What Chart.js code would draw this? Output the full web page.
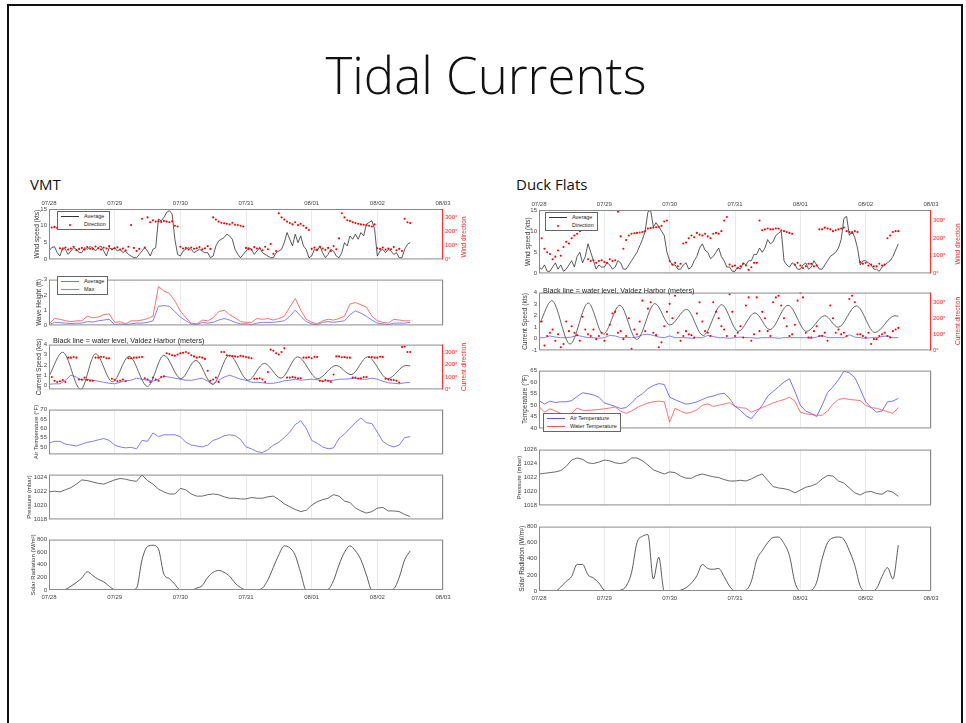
<!DOCTYPE html>
<html lang="en">
<head>
  <meta charset="UTF-8" />
  <title>Tidal Currents</title>
  <script src="https://cdn.jsdelivr.net/npm/chart.js"></script>
  <style>
    * { margin: 0; padding: 0; box-sizing: border-box; }
    body { width: 966px; height: 723px; background: #fff; position: relative; overflow: hidden;
      font-family: 'Liberation Sans', Arial, sans-serif; }
    .frame { position: absolute; left: 7px; top: 4px; width: 956px; height: 740px; border: 2px solid #111; }
    h1 { position: absolute; left: 0; width: 972px; top: 44px; text-align: center;
      font-family: 'Open Sans', sans-serif; font-weight: 300; font-size: 51px; line-height: 60px; color: #111; }
    .panel-title { position: absolute; font-family: 'Open Sans', sans-serif; font-size: 15px; color: #111; }
    canvas { position: absolute; }
    .vt { position: absolute; transform: translate(-50%, -50%) rotate(-90deg); white-space: nowrap;
      font-size: 6.5px; color: #ff2020; }
    .note { position: absolute; font-size: 7.2px; color: #222; white-space: nowrap; line-height: 8px; }
    .lg { position: absolute; background: #fff; border: 1px solid #666; font-size: 5.5px; line-height: 7.5px;
      padding: 1px 3px; color: #222; white-space: nowrap; }
    .lg i { display: inline-block; width: 18px; height: 0; border-top: 1px solid; vertical-align: middle; margin-right: 5px; }
    .lg b { display: inline-block; width: 18px; vertical-align: middle; margin-right: 5px; text-align: center; line-height: 2px; }
    .lg b::before { content: ''; display: inline-block; width: 2px; height: 2px; border-radius: 50%; background: #f00; }
  </style>
</head>
<body>
  <div class="frame"></div>
  <h1>Tidal Currents</h1>
  <div class="panel-title" style="left:30px; top:174px;">VMT</div>
  <div class="panel-title" style="left:516px; top:174px;">Duck Flats</div>

  <canvas id="vmtWind"></canvas>
  <canvas id="vmtWave"></canvas>
  <canvas id="vmtCurrent"></canvas>
  <canvas id="vmtAir"></canvas>
  <canvas id="vmtPress"></canvas>
  <canvas id="vmtSolar"></canvas>
  <canvas id="duckWind"></canvas>
  <canvas id="duckCurrent"></canvas>
  <canvas id="duckTemp"></canvas>
  <canvas id="duckPress"></canvas>
  <canvas id="duckSolar"></canvas>

  <div class="vt" style="left:463px; top:237px;">Wind direction</div>
  <div class="vt" style="left:463px; top:367px;">Current direction</div>
  <div class="vt" style="left:957px; top:244px;">Wind direction</div>
  <div class="vt" style="left:957px; top:321px;">Current direction</div>

  <div class="note" style="left:53px; top:337px;">Black line = water level, Valdez Harbor (meters)</div>
  <div class="note" style="left:543px; top:287px;">Black line = water level, Valdez Harbor (meters)</div>

  <div class="lg" style="left:57px; top:211px;">
    <div><i style="border-color:#333"></i>Average</div>
    <div><b></b>Direction</div>
  </div>
  <div class="lg" style="left:57px; top:276px;">
    <div><i style="border-color:#7070ff"></i>Average</div>
    <div><i style="border-color:#ff6060"></i>Max</div>
  </div>
  <div class="lg" style="left:545px; top:212px;">
    <div><i style="border-color:#333"></i>Average</div>
    <div><b></b>Direction</div>
  </div>
  <div class="lg" style="left:543px; top:413px;">
    <div><i style="border-color:#5050ff"></i>Air Temperature</div>
    <div><i style="border-color:#ff5050"></i>Water Temperature</div>
  </div>

  <script>
    // time axis: hours since 07/28 00:00, one reading every 2 h
    const hours = [0,2,4,6,8,10,12,14,16,18,20,22,24,26,28,30,32,34,36,38,40,42,44,46,48,50,52,54,56,58,60,62,64,66,68,70,72,74,76,78,80,82,84,86,88,90,92,94,96,98,100,102,104,106,108,110,112,114,116,118,120,122,124,126,128,130,132];
    // wind readings: one every hour
    const windHours = [0,1,2,3,4,5,6,7,8,9,10,11,12,13,14,15,16,17,18,19,20,21,22,23,24,25,26,27,28,29,30,31,32,33,34,35,36,37,38,39,40,41,42,43,44,45,46,47,48,49,50,51,52,53,54,55,56,57,58,59,60,61,62,63,64,65,66,67,68,69,70,71,72,73,74,75,76,77,78,79,80,81,82,83,84,85,86,87,88,89,90,91,92,93,94,95,96,97,98,99,100,101,102,103,104,105,106,107,108,109,110,111,112,113,114,115,116,117,118,119,120,121,122,123,124,125,126,127,128,129,130,131,132];
    const dayTicks = [0, 24, 48, 72, 96, 120, 144];
    const dayLabels = ["07/28", "07/29", "07/30", "07/31", "08/01", "08/02", "08/03"];

    // ---- VMT ----
    const vmtWindAvg = [2.5,3.5,3.8,2,1,3.5,3,1.5,2.5,3.5,3,2, 2,3.5,3,3.8,3.5,2.5,3.5,4,2.5,1,3.5,3, 3.5,2.5,3,2,2.5,1.5,1,0.5,0.5,1.5,2.5,3.5, 2.5,1,3,3.5,12,11.5,12.5,14,14.5,13.5,6,1.5, 1,2.5,3,3.5,3,2,2.5,3,2.5,2,2,0.5, 1,4,5.5,6,6.5,7.5,7,6,3,1.5,0.5,1.5, 2.5,3.5,3,1.5,2.5,3.5,2,1.5,1,0.5,0.5,2, 2.5,3,5,8,6,4,7.5,5,7,4,3,0.5, 1,3,2.5,4,2,0.5,1.5,3,2.5,1,0.5,2, 5,4,7,6,7.5,6,8,7,10.5,11,11.5,9, 1,2.5,3,2,3,2.5,1.5,2,0.5,0.5,3,4.5, 5];
    const vmtWindDir = [235,228,232,225,80,72,85,70,78,90,66,75, 82,70,88,76,74,92,80,70,85,78,95,72, 80,86,70,78,65,90,245,82,60,75,290,85, 300,265,280,270,272,268,275,270,265,272,240,235, 90,78,82,70,85,76,80,88,72,80,95,75, 300,285,270,262,258,255,250,262,248,245,240,235, 82,75,70,88,78,80,65,90,72,110,40,60, 330,300,285,270,260,250,265,245,255,240,225,210, 75,85,70,90,78,68,82,60,95,72,150,330, 300,280,275,265,260,255,250,248,245,240,235,250, 80,75,85,70,78,72,88,65,75,60,290,265, 260];
    const vmtWaveAvg = [0.05,0.2,0.18,0.15,0.12,0.15,0.15,0.25,0.22,0.3,0.35,0.4, 0.05,0.1,0.05,0.1,0.15,0.15,0.2,0.3,1.25,1.3,1.25,0.9, 0.55,0.3,0.1,0.05,0.2,0.15,0.2,0.35,0.45,0.35,0.2,0.1, 0.1,0.05,0.15,0.2,0.2,0.2,0.25,0.3,0.6,1,0.6,0.25, 0.1,0.05,0.2,0.25,0.2,0.25,0.3,0.7,0.95,0.8,0.6,0.35, 0.15,0.1,0.05,0.15,0.15,0.15,0.2];
    const vmtWaveMax = [0.1,0.45,0.4,0.3,0.25,0.3,0.3,0.6,0.5,0.55,0.7,0.75, 0.2,0.25,0.1,0.3,0.3,0.35,0.45,0.6,2.55,2.25,2.1,1.6, 0.95,0.5,0.15,0.1,0.35,0.3,0.5,0.9,1,0.7,0.5,0.25, 0.2,0.2,0.45,0.4,0.45,0.35,0.45,0.6,1.2,1.75,1,0.4, 0.2,0.1,0.3,0.4,0.35,0.45,0.6,1.4,1.5,1.35,1.2,0.6, 0.3,0.2,0.15,0.4,0.35,0.3,0.3];
    const vmtCurSpeed = [0.1,0.15,0.15,0.5,1,0.8,0.5,0.6,0.5,0.4,0.3,0.2, 0.15,0.3,0.45,0.5,0.7,0.6,0.5,0.4,0.6,0.9,0.8,0.7, 0.6,0.5,0.5,0.6,0.7,0.4,0.1,0.5,0.8,1,0.8,0.6, 0.5,0.3,0.3,0.25,0.2,0.2,0.3,0.45,0.5,0.6,0.5,0.55, 0.6,0.55,0.4,0.45,0.5,0.6,0.6,0.65,0.7,0.6,0.6,0.7, 0.6,0.4,0.25,0.2,0.15,0.25,0.3];
    const vmtCurDir = [90,100,70,60,65,75,60,255,255,260,255,80, 80,95,75,70,70,255,255,262,260,250,250,85, 75,65,70,80,65,250,250,255,255,258,260,90, 80,60,95,80,70,100,105,290,285,275,270,280, 290,295,300,290,275,265,255,260,255,245,150,70, 80,95,60,300,300,275,270,268,265,262,270,265, 260,255,250,85,85,90,80,60,140,320,310,290, 280,300,330,95,95,100,95,90,90,255,255,258, 250,262,260,70,65,75,70,60,120,265,265,258, 260,255,255,95,95,88,90,100,100,260,260,255, 255,262,260,85,80,78,75,70,55,340,345,300, 300];
    // water level: highs and lows of the tide
    const vmtTideHours = [0,5,11.6,17,23.2,29.3,36,42,48.2,53.7,59.8,65.9,72.8,78.7,84.8,90.9,98.2,104.9,110.4,116.5,123.8,130.5,132];
    const vmtTideLevel = [0.9,3.25,-0.4,3.1,0.35,2.85,-0.1,2.95,0.65,2.45,0.1,2.95,0.5,2.15,0.7,2.8,0.65,1.95,1.05,2.8,0.65,1.95,1.9];
    const vmtAirTemp = [52,53,53,51.5,51,50.5,51.5,52.5,53,53.8,54.5,53.5, 51,50,49.5,49.8,49,53.5,53,57.5,55.5,56.5,56.5,56.5, 55.5,52.5,51,50.5,50,51,53.5,54.5,56,56.5,56,54, 50,49,47.5,47,48.5,51,52.5,55,58,62,64,60, 53.5,52,50,49,49.5,54.5,57,60,63,65.5,63,62.5, 58,53,51,50,51,55,55.5];
    const vmtPressure = [1021.9,1022,1021.9,1022.2,1022.5,1023,1023.6,1023.5,1023.3,1023.1,1023,1023.3, 1023.6,1023.8,1023.7,1023.5,1023.4,1024.3,1023.5,1023,1022.3,1021.9,1021.6,1021.6, 1022.4,1022.2,1021.6,1021.3,1021.3,1021.5,1021.6,1021.5,1021.2,1021,1021,1020.9, 1020.9,1021.1,1021,1021,1021.2,1021.3,1020.8,1020.2,1019.8,1019.4,1019.1,1019.3, 1020,1020.5,1020.8,1021,1021.5,1021.3,1020.6,1020.4,1019.6,1019.2,1018.9,1019.1, 1019.6,1019.7,1019.2,1019.2,1019.1,1018.7,1018.4];
    const vmtSolar = [0,0,0,10,60,120,190,290,230,170,130,60, 5,0,0,0,30,480,690,710,650,250,180,90, 0,0,0,30,70,200,280,310,280,220,110,40, 0,0,0,30,160,360,560,700,670,550,270,0, 0,0,0,10,150,400,600,700,620,480,240,0, 0,0,0,20,200,480,620];

    // ---- Duck Flats ----
    const duckWindAvg = [1.5,1,2,0.5,0.5,1.5,2.5,1,2,0.5,1,2, 3,1.5,4,5,2.5,4,7,5,3,1,2,1.5, 1.5,2.5,2,1,1.5,3,2.5,1,1,2,3,4, 5,6.5,8,10,14.5,15,11,12,11,10,9,5, 3,2,2,1,1,2,2.5,1,1.5,3,4,6, 7,5.5,5,3.5,4,5,6,4,3,1.5,1.5,0.5, 0.5,1.5,1,2.5,2,3,3,4.5,4.5,6,5,6, 8,7,7.5,9,9.5,10,3,2,1.5,2.5,2,1, 1,2,2.5,1,1.5,3,2,1,1,2,3,4, 4.5,5,6,8,13,13.5,9,10,8.5,6,2,3, 3,2.5,2,1,1,0.5,1.5,2,2.5,3,4,5.5, 7];
    const duckWindDir = [255,200,140,120,110,80,95,130,100,150,180,170, 200,215,225,240,250,262,80,70,75,60,70,75, 65,60,80,70,75,350,210,140,190,215,225,228, 230,232,235,240,255,258,260,262,265,270,295,300, 70,50,60,40,55,170,175,200,215,205,230,220, 215,225,210,200,225,230,225,240,300,320,50,40, 45,30,40,55,45,20,35,60,60,300,245,250, 255,250,250,255,255,245,240,235,230,225,50,60, 45,30,40,55,55,40,45,250,250,260,255,250, 240,245,250,255,260,240,235,230,240,235,65,55, 60,45,50,40,40,55,45,50,200,215,235,240, 240];
    const duckCurSpeed = [0.1,0.1,0.25,0.15,0.1,0.1,0.15,0.3,0.2,0.1,0.1,0.05, 0.1,0.3,0.25,0.1,0.1,0.1,0.15,0.35,0.4,0.3,0.15,0.1, 0.25,0.1,0.1,0.1,0.05,0.1,0.1,0.3,0.2,0.1,0.1,0.05, 0.1,0.15,0.1,0.1,0.05,0.1,0.1,0.1,0.05,0.1,0.1,0.1, 0.1,0.1,0.05,0.15,0.3,0.1,0.1,0.1,0.1,0.35,0.15,0.1, 0.05,0.1,0.1,0.2,0.25,0.1,0.1];
    const duckCurDir = [200,180,30,90,110,130,60,100,20,40,180,120, 150,110,95,60,210,130,100,90,130,70,90,110, 60,100,160,230,240,110,120,70,90,200,10,130, 100,180,310,120,260,300,110,95,20,50,150,240, 290,200,340,110,60,90,120,100,95,80,230,300, 180,120,110,90,300,240,200,150,130,90,350,240, 90,110,150,80,280,330,60,100,330,120,240,200, 120,90,300,330,340,280,200,150,90,100,160,310, 360,330,110,80,80,120,150,90,90,110,60,280, 200,110,130,100,110,90,320,340,300,100,100,90, 80,110,40,70,70,90,100,110,90,80,120,130, 140];
    const duckTideHours = [0.4,4.7,11.4,18.1,23.6,29.7,35.9,42.6,48.1,54.2,60.3,67.1,73.2,79.3,84.8,91.5,98.3,105,109.9,116.6,123.4,130.7,132];
    const duckTideLevel = [1.4,3.3,-0.45,3.1,0.4,2.9,-0.05,3.05,1.2,2.55,0.3,2.95,0.65,2.25,0.8,2.9,0.65,2,1,2.85,0.55,2,1.95];
    const duckAirTemp = [52,50.5,51.8,51.2,51.5,51.5,52,53.8,55.4,55,54.5,53.5, 51,50.3,49.5,48.6,49,51,53.5,55,57.2,58.5,59.4,59, 53.5,52.4,51.4,50.5,50.8,51.5,52.5,53.5,54,54.8,55.2,53, 49.5,47.8,45.5,44.2,47,50,54,56,58,60,61.5,56, 50,47.5,46.5,45.1,50,55.5,58,61,64.8,64,62,57, 51.5,49,47,47.5,51.5,51.8,53];
    const duckWaterTemp = [49.5,47,48.5,47.5,46.5,45.8,46.5,48.8,47.8,47.8,48,48.2, 48.5,48.8,49.3,47.5,46.5,47.5,49,50,51,51.5,51.8,51.5, 42.7,48.7,47.5,46.5,47,48,50,50.6,49.5,50,50.5,51.2, 49.5,49,48.7,47,48,49,50,51,51.8,52.5,53.5,51.8, 47,46.3,46,45.7,45.7,47.5,50.5,52.5,53,52.5,52.3,52, 50,49,48.7,48,47.2,46.5,49];
    const duckPressure = [1022.5,1022.6,1022.7,1022.8,1023,1023.6,1024.5,1024.8,1024.6,1024.1,1024,1024.2, 1024.5,1024.4,1024.1,1024,1024.2,1024.8,1024.8,1024.4,1023.8,1023.1,1022.8,1022.5, 1022.8,1022.7,1022.2,1021.9,1021.9,1022.3,1022.5,1022.3,1022.1,1022,1021.7,1021.5, 1021.5,1021.6,1021.5,1021.8,1022.2,1022.5,1021.6,1020.7,1020.5,1020.4,1020.2,1019.8, 1020.2,1020.6,1020.8,1021.1,1021.8,1022.3,1022.2,1021.5,1021.2,1020.5,1019.8,1019.5, 1019.9,1020,1019.7,1019.6,1020.1,1019.9,1019.3];
    const duckSolar = [0,0,0,0,50,120,180,330,330,200,160,100, 10,0,0,10,60,230,600,680,700,150,420,0, 0,0,10,40,100,190,330,280,270,280,180,60, 0,0,10,120,390,500,600,665,670,590,440,110, 0,0,10,110,400,600,660,670,640,500,320,60, 0,0,30,180,290,150,570];

    // tick values of the y axes
    const windTicks = [0, 5, 10, 15];
    const dirTicks = [0, 100, 200, 300];
    const waveTicks = [0, 1, 2, 3];
    const vmtCurTicks = [0, 1, 2, 3, 4];
    const duckCurTicks = [-1, 0, 1, 2, 3, 4];
    const vmtAirTicks = [50, 55, 60, 65, 70];
    const duckTempTicks = [40, 45, 50, 55, 60, 65];
    const vmtPressTicks = [1018, 1020, 1022, 1024];
    const duckPressTicks = [1018, 1020, 1022, 1024, 1026];
    const solarTicks = [0, 200, 400, 600, 800];

    Chart.defaults.font.family = "'Liberation Sans', Arial, sans-serif";

    const xy = (xs, ys) => xs.map((x, i) => ({ x: x, y: ys[i] }));

    // MATLAB style box round the plot area
    const boxPlugin = {
      id: 'box',
      afterDraw(chart) {
        const a = chart.chartArea, ctx = chart.ctx;
        ctx.save();
        ctx.lineWidth = 1;
        ctx.strokeStyle = '#8a8a8a';
        ctx.strokeRect(a.left + 0.5, a.top + 0.5, a.width - 1, a.height - 1);
        if (chart.options.plugins.box && chart.options.plugins.box.redRight) {
          ctx.strokeStyle = '#ff3030';
          ctx.beginPath();
          ctx.moveTo(a.right - 0.5, a.top);
          ctx.lineTo(a.right - 0.5, a.bottom);
          ctx.stroke();
        }
        ctx.restore();
      }
    };

    function line(data, color, width, smooth) {
      return { type: 'line', data: data, borderColor: color, borderWidth: width || 0.8,
        pointRadius: 0, fill: false, order: 2, cubicInterpolationMode: smooth ? 'monotone' : 'default', tension: 0 };
    }
    function dots(data) {
      return { type: 'scatter', data: data, yAxisID: 'y2', backgroundColor: '#ff0000', borderWidth: 0,
        pointRadius: 1.05, order: 0 };
    }

    function makeChart(id, p) {
      const cv = document.getElementById(id);
      cv.width = p.w; cv.height = p.h;
      cv.style.left = p.left + 'px'; cv.style.top = p.top + 'px';
      cv.style.width = p.w + 'px'; cv.style.height = p.h + 'px';

      const scales = {
        x: {
          type: 'linear', min: 0, max: 144, position: p.xPos || 'bottom',
          afterBuildTicks: s => { s.ticks = dayTicks.map(v => ({ value: v })); },
          afterFit: s => { s.height = p.xPos ? (p.xPos === 'top' ? 12 : 14) : 0; },
          grid: { color: '#e4e4e4', lineWidth: 0.8, drawTicks: false },
          border: { display: false },
          ticks: { display: !!p.xPos, autoSkip: false, maxRotation: 0, color: '#444',
            font: { size: 6 }, padding: p.xPos === 'top' ? 2 : 4,
            callback: (v, i) => dayLabels[i] }
        },
        y: {
          position: 'left', min: p.yMin, max: p.yMax,
          afterBuildTicks: s => { s.ticks = p.yTicks.map(v => ({ value: v })); },
          afterFit: s => { s.width = p.leftW; },
          grid: { display: false, drawTicks: false }, border: { display: false },
          ticks: { color: '#444', font: { size: 6 }, padding: 2, callback: v => String(v) },
          title: { display: true, text: p.yTitle, color: '#333', font: { size: p.titleSize || 6.5 },
            padding: { top: p.titlePad, bottom: 0 } }
        }
      };
      if (p.dir) {
        scales.y2 = {
          position: 'right', min: 0, max: 360,
          afterBuildTicks: s => { s.ticks = dirTicks.map(v => ({ value: v })); },
          afterFit: s => { s.width = 35; },
          grid: { display: false, drawTicks: false }, border: { display: false },
          ticks: { color: '#ff2020', font: { size: 6 }, padding: 2, callback: v => v + '°' }
        };
      }
      return new Chart(cv, {
        data: { datasets: p.datasets },
        options: {
          responsive: false, animation: false, events: [],
          layout: { padding: { left: 0, top: 0, bottom: 0, right: p.dir ? 0 : 35 } },
          plugins: { legend: { display: false }, tooltip: { enabled: false }, box: { redRight: !!p.dir } },
          scales: scales
        },
        plugins: [boxPlugin]
      });
    }

    // ---- VMT panel (plot x 49..443) ----
    const L = { left: 0, w: 478, leftW: 49 };
    makeChart('vmtWind', Object.assign({}, L, { top: 197, h: 68, xPos: 'top', yMin: 0, yMax: 15, yTicks: windTicks,
      yTitle: 'Wind speed (kts)', titlePad: 33, dir: true,
      datasets: [line(xy(windHours, vmtWindAvg), '#303030', 0.8), dots(xy(windHours, vmtWindDir))] }));
    makeChart('vmtWave', Object.assign({}, L, { top: 274, h: 57, yMin: 0, yMax: 3, yTicks: waveTicks,
      yTitle: 'Wave Height (ft)', titlePad: 35,
      datasets: [line(xy(hours, vmtWaveMax), '#ff6060', 0.9), line(xy(hours, vmtWaveAvg), '#7070ff', 0.9)] }));
    makeChart('vmtCurrent', Object.assign({}, L, { top: 339, h: 56, yMin: -0.4, yMax: 4, yTicks: vmtCurTicks,
      yTitle: 'Current Speed (kts)', titlePad: 35, dir: true,
      datasets: [line(xy(vmtTideHours, vmtTideLevel), '#555', 0.9, true), line(xy(hours, vmtCurSpeed), '#6060ff', 0.8),
        dots(xy(windHours, vmtCurDir))] }));
    makeChart('vmtAir', Object.assign({}, L, { top: 404, h: 56, yMin: 46, yMax: 70, yTicks: vmtAirTicks,
      yTitle: 'Air Temperature (°F)', titlePad: 33, titleSize: 6,
      datasets: [line(xy(hours, vmtAirTemp), '#5a5aff', 0.8)] }));
    makeChart('vmtPress', Object.assign({}, L, { top: 469, h: 56, yMin: 1018, yMax: 1024.35, yTicks: vmtPressTicks,
      yTitle: 'Pressure (mbar)', titlePad: 26, titleSize: 6,
      datasets: [line(xy(hours, vmtPressure), '#444', 0.8)] }));
    makeChart('vmtSolar', Object.assign({}, L, { top: 534, h: 70, xPos: 'bottom', yMin: 0, yMax: 800, yTicks: solarTicks,
      yTitle: 'Solar Radiation (W/m²)', titlePad: 30, titleSize: 6,
      datasets: [line(xy(hours, vmtSolar), '#333', 0.8, true)] }));

    // ---- Duck Flats panel (plot x 539..931) ----
    const R = { left: 478, w: 488, leftW: 61 };
    makeChart('duckWind', Object.assign({}, R, { top: 198, h: 81, xPos: 'top', yMin: 0, yMax: 15, yTicks: windTicks,
      yTitle: 'Wind speed (kts)', titlePad: 46, dir: true,
      datasets: [line(xy(windHours, duckWindAvg), '#303030', 0.8), dots(xy(windHours, duckWindDir))] }));
    makeChart('duckCurrent', Object.assign({}, R, { top: 287, h: 69, yMin: -1, yMax: 4, yTicks: duckCurTicks,
      yTitle: 'Current Speed (kts)', titlePad: 43, dir: true,
      datasets: [line(xy(duckTideHours, duckTideLevel), '#555', 0.9, true), line(xy(hours, duckCurSpeed), '#6060ff', 0.8),
        dots(xy(windHours, duckCurDir))] }));
    makeChart('duckTemp', Object.assign({}, R, { top: 365, h: 69, yMin: 40, yMax: 65, yTicks: duckTempTicks,
      yTitle: 'Temperature (°F)', titlePad: 43,
      datasets: [line(xy(hours, duckWaterTemp), '#ff5050', 0.8), line(xy(hours, duckAirTemp), '#5050ff', 0.8)] }));
    makeChart('duckPress', Object.assign({}, R, { top: 444, h: 67, yMin: 1018, yMax: 1026, yTicks: duckPressTicks,
      yTitle: 'Pressure (mbar)', titlePad: 38, titleSize: 6,
      datasets: [line(xy(hours, duckPressure), '#444', 0.8)] }));
    makeChart('duckSolar', Object.assign({}, R, { top: 521, h: 84, xPos: 'bottom', yMin: 0, yMax: 800, yTicks: solarTicks,
      yTitle: 'Solar Radiation (W/m²)', titlePad: 40,
      datasets: [line(xy(hours, duckSolar), '#333', 0.8, true)] }));
  </script>
</body>
</html>
